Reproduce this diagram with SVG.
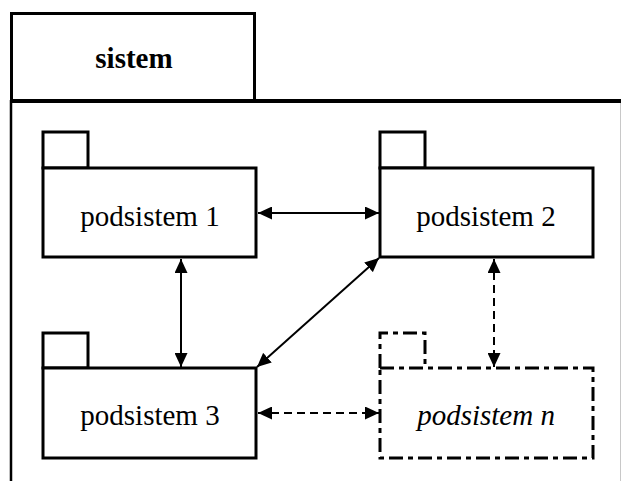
<svg xmlns="http://www.w3.org/2000/svg" width="621" height="481" viewBox="0 0 621 481">
  <style>
    .pkg { fill: #fff; stroke: #000; stroke-width: 3; }
    .pkg-dash { fill: none; stroke: #000; stroke-width: 3; stroke-dasharray: 14 5 5 5; }
    .label { font-family: "Liberation Serif", "Times New Roman", serif; font-size: 29px; fill: #000; text-anchor: middle; }
    .conn { fill: none; stroke: #000; stroke-width: 2; marker-start: url(#arrow); marker-end: url(#arrow); }
    .dashed { stroke-dasharray: 8 5; }
  </style>
  <defs>
    <marker id="arrow" markerUnits="userSpaceOnUse" markerWidth="15" markerHeight="13" refX="14" refY="6.5" orient="auto-start-reverse">
      <path d="M0,0 L14,6.5 L0,13 z" fill="#000"/>
    </marker>
  </defs>

  <rect width="621" height="481" fill="#fff"/>

  <!-- system frame -->
  <g id="sistem">
    <rect x="11.5" y="13.5" width="243" height="87" fill="#fff" stroke="#000" stroke-width="3"/>
    <line x1="11" y1="101" x2="621" y2="101" stroke="#000" stroke-width="4"/>
    <line x1="11" y1="100" x2="11" y2="481" stroke="#000" stroke-width="2.5"/>
    <line x1="620.5" y1="103" x2="620.5" y2="481" stroke="#c8c8c8" stroke-width="1"/>
    <text class="label" x="134" y="68" font-weight="bold" font-size="30">sistem</text>
  </g>

  <!-- subsystems -->
  <g id="podsistem1">
    <rect class="pkg" x="43" y="132" width="45" height="36"/>
    <rect class="pkg" x="43" y="168" width="213" height="89"/>
    <text class="label" x="150" y="226">podsistem 1</text>
  </g>

  <g id="podsistem2">
    <rect class="pkg" x="380" y="132" width="45" height="36"/>
    <rect class="pkg" x="380" y="168" width="213" height="89"/>
    <text class="label" x="486" y="226">podsistem 2</text>
  </g>

  <g id="podsistem3">
    <rect class="pkg" x="43" y="333" width="45" height="35"/>
    <rect class="pkg" x="43" y="368" width="213" height="90"/>
    <text class="label" x="150" y="425">podsistem 3</text>
  </g>

  <g id="podsistemN">
    <path class="pkg-dash" d="M380,368 L380,333 L425,333 L425,368"/>
    <rect class="pkg-dash" x="380" y="368" width="213" height="90"/>
    <text class="label" x="486" y="425" font-style="italic">podsistem n</text>
  </g>

  <!-- connectors -->
  <g id="connectors">
    <line class="conn" x1="258" y1="213" x2="379" y2="213"/>
    <line class="conn" x1="181" y1="259" x2="181" y2="367"/>
    <line class="conn" x1="379" y1="258" x2="257" y2="367"/>
    <line class="conn dashed" x1="494" y1="259" x2="494" y2="367"/>
    <line class="conn dashed" x1="258" y1="413" x2="379" y2="413"/>
  </g>
</svg>
